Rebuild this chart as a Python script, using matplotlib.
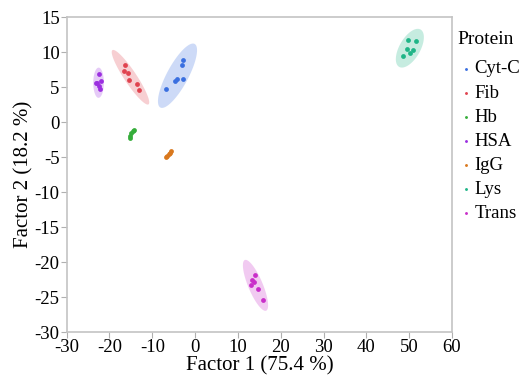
import numpy as np
import matplotlib.pyplot as plt

# ---- data ----
proteins = ["Cyt-C", "Fib", "Hb", "HSA", "IgG", "Lys", "Trans"]
colors = ["#3a6fe0", "#e0434f", "#35ad3a", "#9b2fe0", "#d9781e", "#1fb587", "#c92fc9"]

cytc_x = [-2.9, -3.1, -4.3, -4.7, -2.9, -6.8]
cytc_y = [8.8, 8.1, 6.2, 5.8, 6.1, 4.7]
fib_x = [-16.3, -16.6, -15.6, -15.5, -13.5, -13.1]
fib_y = [8.1, 7.3, 7.0, 6.0, 5.4, 4.6]
hb_x = [-14.3, -14.6, -15.0, -15.1, -15.2]
hb_y = [-1.1, -1.3, -1.6, -2.0, -2.3]
hsa_x = [-22.4, -22.9, -22.1, -22.4, -22.3, -23.2]
hsa_y = [6.8, 5.6, 5.9, 5.1, 4.7, 5.6]
igg_x = [-5.6, -5.9, -6.2, -6.5, -6.7]
igg_y = [-4.1, -4.4, -4.6, -4.8, -5.0]
lys_x = [49.8, 51.7, 49.6, 51.0, 50.2, 48.6]
lys_y = [11.7, 11.6, 10.4, 10.3, 9.9, 9.4]
trans_x = [14.0, 13.4, 13.7, 13.1, 14.6, 15.8]
trans_y = [-21.9, -22.6, -22.9, -23.3, -23.9, -25.4]

xs = [cytc_x, fib_x, hb_x, hsa_x, igg_x, lys_x, trans_x]
ys = [cytc_y, fib_y, hb_y, hsa_y, igg_y, lys_y, trans_y]
with_ellipse = ["Cyt-C", "Fib", "HSA", "Lys", "Trans"]

x_ticks = np.arange(-30, 61, 10)
y_ticks = np.arange(-30, 16, 5)

plt.rcParams['font.family'] = ['Liberation Serif', 'DejaVu Serif']
plt.rcParams['axes.unicode_minus'] = False

fig = plt.figure(figsize=(5.25, 3.79), dpi=100)
ax = fig.add_axes([0.127, 0.124, 0.734, 0.831])

K = 3.0  # ellipse scale (std units)
t = np.linspace(0, 2 * np.pi, 200)
for name, c, x, y in zip(proteins, colors, xs, ys):
    x = np.asarray(x); y = np.asarray(y)
    if name in with_ellipse:
        cov = np.cov(x, y)
        w, v = np.linalg.eigh(cov)
        circ = np.vstack([np.cos(t), np.sin(t)])
        pts = v @ (np.sqrt(np.maximum(w, 0))[:, None] * circ) * K
        ax.fill(x.mean() + pts[0], y.mean() + pts[1], color=c, alpha=0.25, lw=0)
    ax.scatter(x, y, s=12, color=c, label=name, zorder=3, linewidths=0)

ax.set_xlim(-30, 60)
ax.set_ylim(-30, 15)
ax.set_xticks(x_ticks)
ax.set_yticks(y_ticks)
ax.set_xlabel("Factor 1 (75.4 %)", fontsize=15, labelpad=0)
ax.set_ylabel("Factor 2 (18.2 %)", fontsize=15, labelpad=1)
ax.tick_params(labelsize=13.5, color="#b0b0b0", length=4, pad=1)
for s in ax.spines.values():
    s.set_color("#c4c4c4")
    s.set_linewidth(1.2)

leg = ax.legend(title="Protein", loc="upper left", bbox_to_anchor=(0.985, 0.992),
                frameon=False, fontsize=13.5, title_fontsize=14, markerscale=0.6,
                handletextpad=0.0, handlelength=0.9, labelspacing=0.37,
                borderaxespad=0.2)
leg._legend_box.align = "left"
leg._legend_box.sep = 9

fig.savefig("out.png", dpi=100)
